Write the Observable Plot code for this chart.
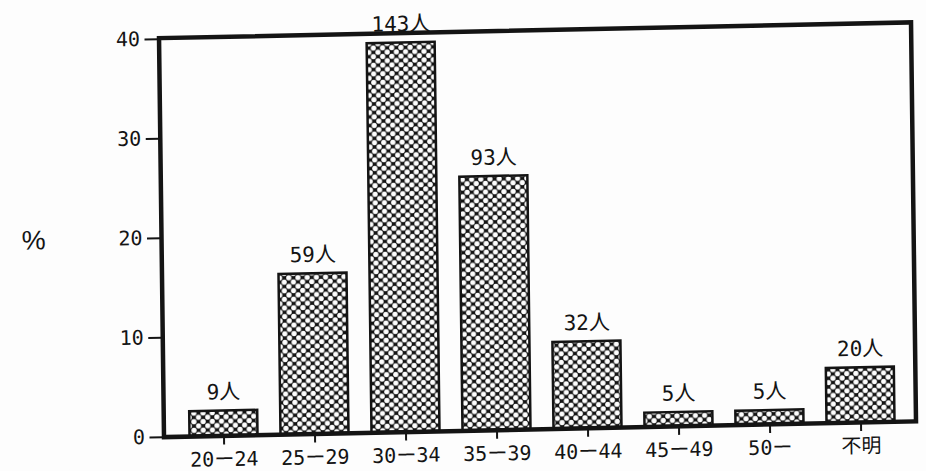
<!DOCTYPE html>
<html>
<head>
<meta charset="utf-8">
<script src="https://cdn.jsdelivr.net/npm/d3@7"></script>
<script src="https://cdn.jsdelivr.net/npm/@observablehq/plot@0.6"></script>
<style>
  html, body { margin: 0; padding: 0; background: #fdfdfd; overflow: hidden; }
  #chart svg { transform-origin: 0 0; transform: matrix(1, -0.021, 0.0125, 1, 0, 0); }
</style>
</head>
<body>
<div id="chart"></div>
<script>
// Data
const ageGroups = ["20ー24", "25ー29", "30ー34", "35ー39", "40ー44", "45ー49", "50ー", "不明"];
const percents  = [2.5, 16.1, 39.1, 25.5, 8.7, 1.4, 1.4, 5.5];
const counts    = [9, 59, 143, 93, 32, 5, 5, 20];
const yTicks    = [0, 10, 20, 30, 40];
const yLabel    = "%";

const data = ageGroups.map((g, i) => ({group: g, pct: percents[i], label: counts[i] + "人"}));
const ink = "#141414";

function patternDefs() {
  const defs = d3.create("svg:defs");
  const w = 9.2, h = 8.6;
  const p = defs.append("pattern")
    .attr("id", "hatch")
    .attr("patternUnits", "userSpaceOnUse")
    .attr("width", w).attr("height", h);
  p.append("rect").attr("width", w).attr("height", h).attr("fill", ink);
  [[0, 0], [w, 0], [0, h], [w, h], [w / 2, h / 2]].forEach(([cx, cy]) =>
    p.append("circle").attr("cx", cx).attr("cy", cy).attr("r", 2.6).attr("fill", "#fdfdfd"));
  return defs.node();
}

const chart = Plot.plot({
  width: 926,
  height: 471,
  marginLeft: 158,
  marginRight: 16,
  marginTop: 42,
  marginBottom: 31,
  style: {
    fontFamily: "'DejaVu Sans Mono', 'Noto Sans CJK JP', monospace",
    fontSize: "20px",
    color: ink,
    background: "#fdfdfd",
    overflow: "visible"
  },
  x: {domain: ageGroups, paddingInner: 0.255, paddingOuter: 0.25, align: 0.55, label: null},
  y: {domain: [0, 40], label: null},
  marks: [
    patternDefs,
    Plot.barY(data, {x: "group", y: "pct", fill: "url(#hatch)", stroke: ink, strokeWidth: 2.5}),
    Plot.frame({stroke: ink, strokeWidth: 4.5, insetTop: -1}),
    Plot.text(data, {x: "group", y: "pct", text: "label", lineAnchor: "bottom", dy: -12, fontSize: 21, fill: ink}),
    Plot.axisY({ticks: yTicks, tickSize: 14, tickPadding: 5, strokeWidth: 2, fontSize: 20, label: null}),
    Plot.axisX({tickSize: 9, tickPadding: 7, strokeWidth: 2, fontSize: 20, label: null}),
    Plot.text([yLabel], {frameAnchor: "left", dx: -128, textAnchor: "middle", fontSize: 27, fontFamily: "'Liberation Sans', sans-serif", fill: ink})
  ]
});

document.getElementById("chart").appendChild(chart);
</script>
</body>
</html>
